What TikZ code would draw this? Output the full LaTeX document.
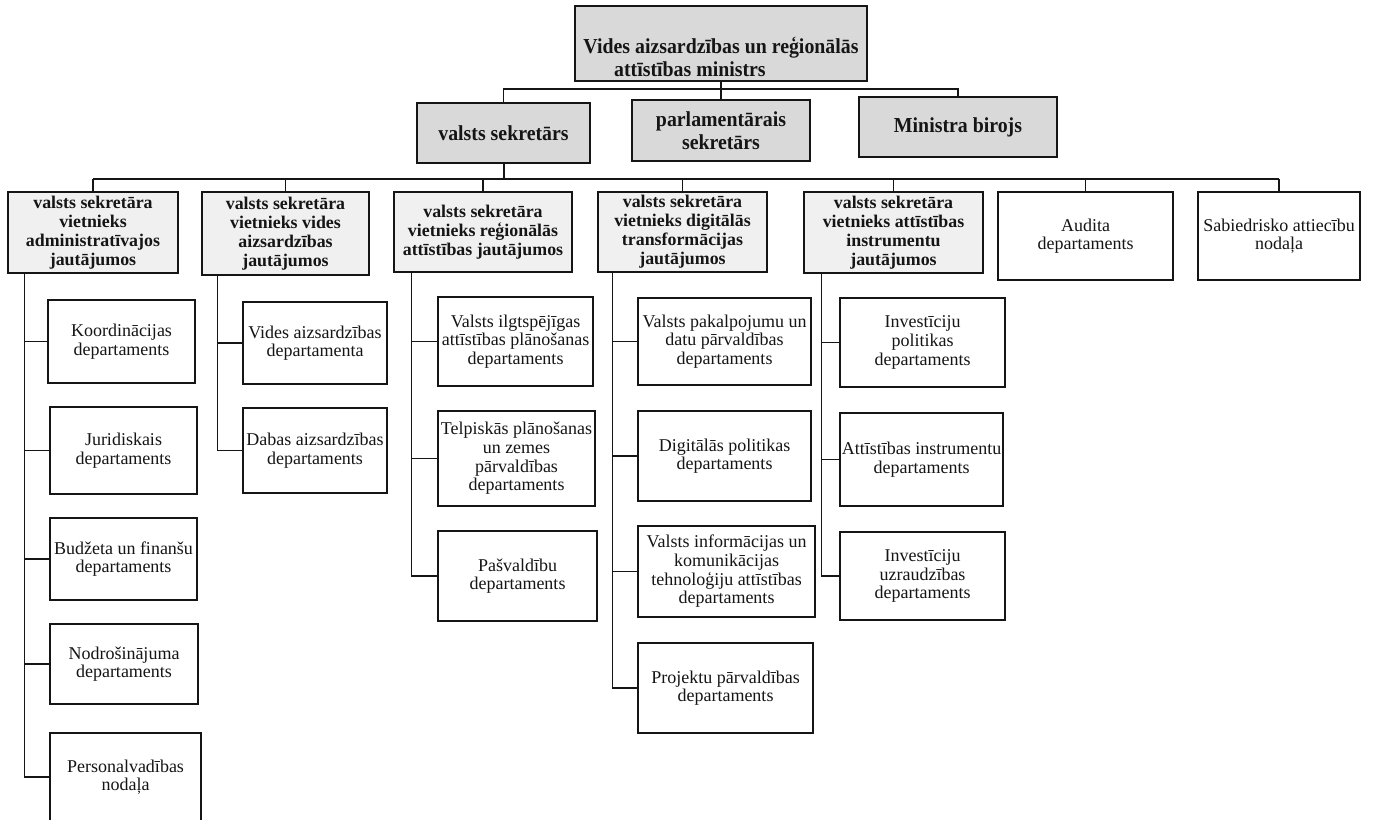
\documentclass[tikz,border=0pt]{standalone}
\usepackage{fontspec}
\setmainfont{Liberation Serif}
\newfontfamily\condserif{Liberation Serif}[FakeStretch=0.93]
\definecolor{gA}{HTML}{D9D9D9}
\definecolor{gB}{HTML}{F0F0F0}
\definecolor{ink}{HTML}{151515}
\newcommand\titlefont{\condserif\bfseries\fontsize{16}{17.25}\selectfont}
\newcommand\subfont{\bfseries\fontsize{13.4}{14.2}\selectfont}
\newcommand\deptfont{\fontsize{13.5}{14}\selectfont}
\newcommand\bx[7]{%
  \pgfmathsetmacro\bxcx{(#3+#5)/2}%
  \pgfmathsetmacro\bxcy{(#4+#6)/2}%
  \pgfmathsetmacro\bxw{(#5-#3)*0.75}%
  \pgfmathsetmacro\bxh{(#6-#4)*0.75}%
  \node[#2, minimum width=\bxw pt, minimum height=\bxh pt] (#1) at (\bxcx,\bxcy) {#7};}
\tikzset{
  boxbase/.style={draw=ink, line width=1.1pt, inner sep=0pt, align=center, text=ink},
  lvlA/.style={boxbase, fill=gA, font=\titlefont},
  lvlB/.style={boxbase, fill=gB, font=\subfont},
  dept/.style={boxbase, fill=white, font=\deptfont},
  conn/.style={draw=ink, line width=1pt},
  busline/.style={draw=ink, line width=1.5pt},
}
\begin{document}
\begin{tikzpicture}[x=0.75pt,y=-0.75pt]
\useasboundingbox[fill=white] (0,0) rectangle (1374,819);

% top
\bx{T}{lvlA}{575}{6}{867}{81}{}
\node[font=\titlefont, align=left, text=ink, inner sep=0pt] (Tlabel) at (721,57)
  {Vides aizsardzības un reģionālās\\\hspace*{23pt}attīstības ministrs};

% level 1
\bx{VS}{lvlA}{417}{103}{590}{163}{valsts sekretārs}
\bx{PS}{lvlA}{632}{100}{810}{161}{parlamentārais\\sekretārs}
\bx{MB}{lvlA}{859}{97}{1057}{157}{Ministra birojs}

% level 2
\bx{A1}{lvlB}{8}{192}{178}{273}{valsts sekretāra\\vietnieks\\administratīvajos\\jautājumos}
\bx{A2}{lvlB}{202}{192}{369}{275}{valsts sekretāra\\vietnieks vides\\aizsardzības\\jautājumos}
\bx{A3}{lvlB}{394}{192}{572}{272}{valsts sekretāra\\vietnieks reģionālās\\attīstības jautājumos}
\bx{A4}{lvlB}{598}{192}{767}{272}{valsts sekretāra\\vietnieks digitālās\\transformācijas\\jautājumos}
\bx{A5}{lvlB}{804}{192}{983}{273}{valsts sekretāra\\vietnieks attīstības\\instrumentu\\jautājumos}
\bx{A6}{dept}{998}{192}{1173}{280}{Audita\\departaments}
\bx{A7}{dept}{1198}{192}{1360}{280}{Sabiedrisko attiecību\\nodaļa}

% children of A1
\bx{K1}{dept}{48}{300}{195}{383}{Koordinācijas\\departaments}
\bx{K2}{dept}{50}{407}{197}{494}{Juridiskais\\departaments}
\bx{K3}{dept}{50}{518}{197}{600}{Budžeta un finanšu\\departaments}
\bx{K4}{dept}{50}{624}{198}{704}{Nodrošinājuma\\departaments}
\bx{K5}{dept}{50}{733}{201}{821}{Personalvadības\\nodaļa}

% children of A2
\bx{V1}{dept}{243}{302}{387}{384}{Vides aizsardzības\\departamenta}
\bx{V2}{dept}{243}{408}{387}{493}{Dabas aizsardzības\\departaments}

% children of A3
\bx{R1}{dept}{438}{297}{593}{386}{Valsts ilgtspējīgas\\attīstības plānošanas\\departaments}
\bx{R2}{dept}{438}{411}{595}{506}{Telpiskās plānošanas\\un zemes\\pārvaldības\\departaments}
\bx{R3}{dept}{438}{531}{597}{621}{Pašvaldību\\departaments}

% children of A4
\bx{D1}{dept}{638}{298}{811}{385}{Valsts pakalpojumu un\\datu pārvaldības\\departaments}
\bx{D2}{dept}{638}{411}{811}{501}{Digitālās politikas\\departaments}
\bx{D3}{dept}{638}{526}{815}{617}{Valsts informācijas un\\komunikācijas\\tehnoloģiju attīstības\\departaments}
\bx{D4}{dept}{638}{643}{813}{733}{Projektu pārvaldības\\departaments}

% children of A5
\bx{I1}{dept}{840}{298}{1005}{387}{Investīciju\\politikas\\departaments}
\bx{I2}{dept}{840}{413}{1003}{506}{Attīstības instrumentu\\departaments}
\bx{I3}{dept}{840}{532}{1005}{620}{Investīciju\\uzraudzības\\departaments}

% connectors: top
\coordinate (tb) at (721,89);
\draw[conn] (T.south) -- (PS.north);
\draw[conn] (VS.north) |- (tb) -| (MB.north);

% bus under valsts sekretārs
\coordinate (sb) at (503.5,179);
\draw[busline] (VS.south) -- (sb);
\draw[busline] (A1.north |- sb) -- (A7.north |- sb);
\foreach \i in {1,...,7} \draw[conn] (A\i.north) -- (A\i.north |- sb);

% spines
\path (A1.south west) ++(17,0) coordinate (s1);
\path (A2.south west) ++(16,0) coordinate (s2);
\path (A3.south west) ++(18,0) coordinate (s3);
\path (A4.south west) ++(15,0) coordinate (s4);
\path (A5.south west) ++(18,0) coordinate (s5);
\foreach \c in {K1,K2,K3,K4,K5} \draw[conn] (s1) |- (\c.west);
\foreach \c in {V1,V2} \draw[conn] (s2) |- (\c.west);
\foreach \c in {R1,R2,R3} \draw[conn] (s3) |- (\c.west);
\foreach \c in {D1,D2,D3,D4} \draw[conn] (s4) |- (\c.west);
\foreach \c in {I1,I2,I3} \draw[conn] (s5) |- (\c.west);
\end{tikzpicture}
\end{document}
